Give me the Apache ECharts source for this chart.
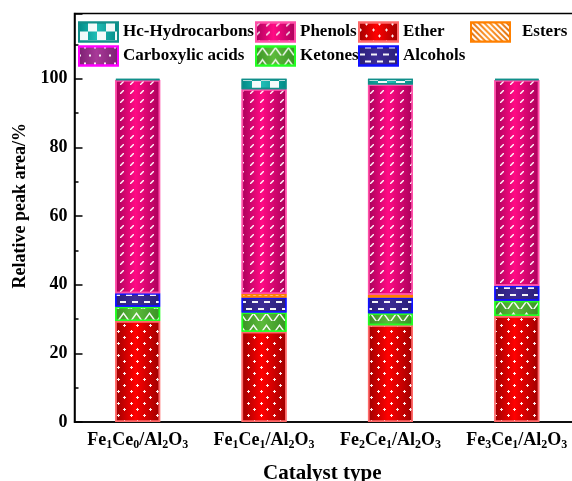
<!DOCTYPE html>
<html>
<head>
<meta charset="utf-8">
<script src="https://cdn.jsdelivr.net/npm/echarts@6/dist/echarts.min.js"></script>
<style>
  html, body { margin: 0; padding: 0; background: #ffffff; }
  #chart { width: 572px; height: 481px; }
</style>
</head>
<body>
<div id="chart"></div>
<script>
// Catalysts on the x axis
const categories = ['Fe1Ce0/Al2O3', 'Fe1Ce1/Al2O3', 'Fe2Ce1/Al2O3', 'Fe3Ce1/Al2O3'];

// Relative peak area (%) of each product class, stacked bottom to top
const ether           = [29.4, 26.3, 28.2, 30.9];
const ketones         = [4.2, 5.6, 3.5, 4.4];
const alcohols        = [3.9, 4.4, 4.6, 4.4];
const esters          = [0, 1.0, 0.8, 0];
const carboxylicAcids = [0, 0, 0, 0];
const phenols         = [62.1, 59.6, 61.2, 59.9];
const hydrocarbons    = [0.4, 3.1, 1.7, 0.4];

// Labelled y ticks
const yTicks = [0, 20, 40, 60, 80, 100];

const FONT = 'Liberation Serif, Times New Roman, serif';

// Horizontal shading: darker edges, bright middle
function shade(edge, mid) {
  return {
    type: 'linear', x: 0, y: 0, x2: 1, y2: 0,
    colorStops: [
      { offset: 0, color: edge },
      { offset: 0.45, color: mid },
      { offset: 1, color: edge }
    ]
  };
}

// Fill patterns drawn on top of each segment
const WHITE = 'rgba(255,255,255,0.95)';
const patterns = {
  hc:    { symbol: 'rect', color: WHITE, dashArrayX: [[9, 9], [0, 9, 9, 0]], dashArrayY: [9, 0] },
  phen:  { symbol: 'path://M3,0H4V1L1,4H0V3Z', color: WHITE, dashArrayX: [4, 6], dashArrayY: [4, 5] },
  ether: { symbol: 'path://M1,0H2V1H3V2H2V3H1V2H0V1H1Z', color: WHITE, dashArrayX: [[3, 10], [0, 6, 3, 4]], dashArrayY: [3, 3] },
  ester: { symbol: 'rect', color: WHITE, dashArrayX: [1, 0], dashArrayY: [2, 2], rotation: Math.PI / 4 },
  acid:  { symbol: 'rect', color: WHITE, dashArrayX: [[2, 8], [0, 5, 2, 3]], dashArrayY: [2, 6] },
  ket:   { symbol: 'path://M0,9L6.5,0L13,9L11.2,9L6.5,2.6L1.8,9Z', symbolKeepAspect: false, color: WHITE, dashArrayX: [13, 0], dashArrayY: [9, 3] },
  alc:   { symbol: 'rect', color: WHITE, dashArrayX: [[6, 6], [0, 6, 6, 0]], dashArrayY: [2, 5] }
};

function makeSeries(name, values, edge, mid, border, decal) {
  return {
    name: name,
    type: 'bar',
    stack: 'total',
    barWidth: 45,
    data: values.map(v => v === 0 ? { value: 0, itemStyle: { borderWidth: 0 } } : v),
    itemStyle: {
      color: shade(edge, mid),
      borderColor: border,
      borderWidth: 1.5,
      decal: decal
    },
    emphasis: { disabled: true }
  };
}

const series = [
  makeSeries('Ether', ether, '#9c0000', '#ff0000', '#ff6a6a', patterns.ether),
  makeSeries('Ketones', ketones, '#3a9026', '#5cbb3a', '#22ff22', patterns.ket),
  makeSeries('Alcohols', alcohols, '#2a1f78', '#3d2c96', '#1010ff', patterns.alc),
  makeSeries('Esters', esters, '#e07010', '#ff9a30', '#ff8000', patterns.ester),
  makeSeries('Carboxylic acids', carboxylicAcids, '#7a1f70', '#a83a98', '#ff00ff', patterns.acid),
  makeSeries('Phenols', phenols, '#a8005a', '#ff0a84', '#ff4fa8', patterns.phen),
  makeSeries('Hc-Hydrocarbons', hydrocarbons, '#008a86', '#20bdb6', '#118f8a', patterns.hc)
];

// Turn "Fe1Ce0/Al2O3" into rich text with subscripted digits
function chemLabel(text) {
  return text.split(/(\d+)/).filter(p => p !== '').map(p =>
    /^\d+$/.test(p) ? '{s|' + p + '}' : '{m|' + p + '}'
  ).join('');
}

const legendText = { fontFamily: FONT, fontWeight: 'bold', fontSize: 17, color: '#000' };
function legendColumn(left, names, extra) {
  return Object.assign({
    orient: 'vertical',
    left: left,
    top: 21.5,
    padding: 0,
    itemGap: 3,
    itemWidth: 39,
    itemHeight: 19,
    icon: 'rect',
    selectedMode: false,
    data: names,
    textStyle: Object.assign({}, legendText)
  }, extra || {});
}

const chart = echarts.init(document.getElementById('chart'), null, { renderer: 'canvas' });
chart.setOption({
  animation: false,
  backgroundColor: '#ffffff',
  grid: {
    left: 74.5, right: -8, top: 13.5, bottom: 59,
    containLabel: false,
    outerBoundsMode: 'none',
    show: true,
    borderColor: '#000',
    borderWidth: 1.5
  },
  legend: [
    legendColumn(78, ['Hc-Hydrocarbons', 'Carboxylic acids']),
    legendColumn(255, ['Phenols', 'Ketones']),
    legendColumn(358, ['Ether', 'Alcohols']),
    legendColumn(470, ['Esters'], { textStyle: Object.assign({}, legendText, { padding: [4, 0, 0, 7] }) })
  ],
  xAxis: {
    type: 'category',
    data: categories,
    axisLine: { lineStyle: { color: '#000', width: 1.5 } },
    axisTick: { show: false },
    axisLabel: {
      margin: 7,
      interval: 0,
      formatter: chemLabel,
      rich: {
        m: { fontFamily: FONT, fontWeight: 'bold', fontSize: 18, color: '#000', lineHeight: 22 },
        s: { fontFamily: FONT, fontWeight: 'bold', fontSize: 12, color: '#000', lineHeight: 12, padding: [10, 0, 0, 0] }
      }
    },
    name: 'Catalyst type',
    nameLocation: 'middle',
    nameGap: 41,
    nameTextStyle: { fontFamily: FONT, fontWeight: 'bold', fontSize: 21, color: '#000', padding: [0, 10, 0, 0] }
  },
  yAxis: {
    type: 'value',
    min: 0,
    max: 119,
    interval: 20,
    axisLine: { show: true, lineStyle: { color: '#000', width: 1.5 } },
    axisTick: { show: true, inside: true, length: 8, lineStyle: { color: '#000', width: 1.5 } },
    minorTick: { show: true, splitNumber: 2, length: 4, lineStyle: { color: '#000', width: 1.5 } },
    splitLine: { show: false },
    axisLabel: {
      customValues: yTicks,
      margin: 7,
      fontFamily: FONT, fontWeight: 'bold', fontSize: 18, color: '#000'
    },
    name: 'Relative peak area/%',
    nameLocation: 'middle',
    nameGap: 43,
    nameRotate: 90,
    nameTextStyle: { fontFamily: FONT, fontWeight: 'bold', fontSize: 18, color: '#000', padding: [0, 0, 0, 24] }
  },
  series: series
});
</script>
</body>
</html>
